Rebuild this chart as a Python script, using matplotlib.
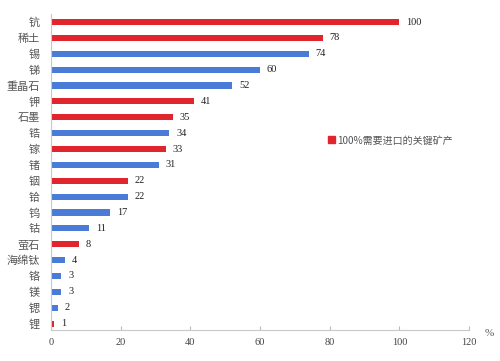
import matplotlib
matplotlib.use("Agg")
import matplotlib.pyplot as plt
from matplotlib.patches import Patch

plt.rcParams['font.family'] = ['Noto Sans CJK SC', 'DejaVu Sans']

minerals = ["钪", "稀土", "锡", "锑", "重晶石", "钾", "石墨", "锆", "镓", "锗",
            "铟", "铪", "钨", "钴", "萤石", "海绵钛", "铬", "镁", "锶", "锂"]
values = [100, 78, 74, 60, 52, 41, 35, 34, 33, 31, 22, 22, 17, 11, 8, 4, 3, 3, 2, 1]
full_import = [True, True, False, False, False, True, True, False, True, False,
               True, False, False, False, True, False, False, False, False, True]
legend_label = "100%需要进口的关键矿产"

RED = "#e0262c"
BLUE = "#4a7bd6"

fig = plt.figure(figsize=(5.0, 3.61), dpi=100)
ax = fig.add_axes([0.102, 0.086, 0.836, 0.875])

ypos = list(range(len(minerals)))
colors = [RED if f else BLUE for f in full_import]
ax.barh(ypos, values, height=0.38, color=colors)
for y, v in zip(ypos, values):
    ax.text(v + 2.0, y, str(v), va="center", ha="left", fontsize=7.5,
            family=["Liberation Serif", "DejaVu Serif"], color="#222222")

ax.set_ylim(len(minerals) - 0.6, -0.5)
ax.set_xlim(0, 120)
ax.set_xticks([0, 20, 40, 60, 80, 100, 120])
ax.set_yticks(ypos)
ax.set_yticklabels(minerals, fontsize=8, color="#555555")
for lbl in ax.get_xticklabels():
    lbl.set_family(["Liberation Serif", "DejaVu Serif"])
    lbl.set_fontsize(7.5)
    lbl.set_color("#444444")
ax.tick_params(axis="y", length=0, pad=8)
ax.tick_params(axis="x", direction="in", length=3, color="#bbbbbb", pad=6)

for s in ["top", "right"]:
    ax.spines[s].set_visible(False)
ax.spines["left"].set_color("#c8c8c8")
ax.spines["bottom"].set_color("#c8c8c8")

fig.text(0.978, 0.07, "%", fontsize=8, color="#555555", ha="center",
         family=["Liberation Serif", "DejaVu Serif"])

leg = ax.legend(handles=[Patch(color=RED, label=legend_label)],
                loc="center left", bbox_to_anchor=(0.64, 0.6), frameon=False,
                fontsize=7.2, handlelength=0.7, handleheight=0.7, handletextpad=0.3)
for t in leg.get_texts():
    t.set_color("#555555")

fig.savefig("out.png", dpi=100)
